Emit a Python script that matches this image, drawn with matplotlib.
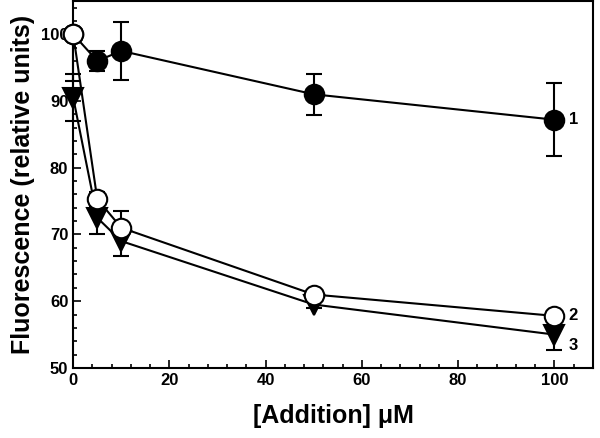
import matplotlib.pyplot as plt
from matplotlib.ticker import MultipleLocator

plt.rcParams['font.family'] = ['Liberation Sans', 'DejaVu Sans']
plt.rcParams['font.weight'] = 'bold'

conc = [0, 5, 10, 50, 100]

# curve 1: filled circles
s1 = [100, 96.0, 97.5, 91.0, 87.2]
s1_err = [0, 1.5, 4.3, 3.1, 5.5]

# curve 2: open circles
s2 = [100, 75.3, 71.0, 61.0, 57.8]
s2_err_lo = [7.0, 1.0, 0.5, 0.3, 0.8]
s2_err_hi = [0.0, 1.0, 2.5, 0.3, 0.3]

# curve 3: filled triangles
s3 = [90.5, 72.5, 69.0, 59.5, 55.0]
s3_err = [3.5, 2.5, 2.3, 0.5, 2.3]

curve_labels = ['1', '2', '3']

fig = plt.figure(figsize=(6, 4.38), dpi=100)
ax = fig.add_axes([0.122, 0.16, 0.866, 0.838])

ebkw = dict(color='black', lw=1.5, elinewidth=1.5, capsize=6, capthick=1.5,
            markeredgecolor='black', markeredgewidth=1.5, clip_on=False)

ax.errorbar(conc, s3, yerr=s3_err, fmt='-v', markersize=14,
            markerfacecolor='black', zorder=3, **ebkw)
ax.errorbar(conc, s1, yerr=s1_err, fmt='-o', markersize=14,
            markerfacecolor='black', zorder=4, **ebkw)
ax.errorbar(conc, s2, yerr=[s2_err_lo, s2_err_hi], fmt='-o', markersize=14,
            markerfacecolor='white', zorder=5, **ebkw)

for lab, yv in zip(curve_labels, [s1[-1], s2[-1], s3[-1] - 1.7]):
    ax.text(conc[-1] + 3, yv, lab, fontsize=12, fontweight='bold',
            va='center', ha='left')

ax.set_xlim(0, 108)
ax.set_ylim(50, 105)
ax.xaxis.set_major_locator(MultipleLocator(20))
ax.xaxis.set_minor_locator(MultipleLocator(4))
ax.yaxis.set_major_locator(MultipleLocator(10))
ax.yaxis.set_minor_locator(MultipleLocator(2))
ax.tick_params(which='both', direction='in', width=1.2, labelsize=12)
ax.tick_params(which='major', length=6)
ax.tick_params(which='minor', length=3)
for sp in ax.spines.values():
    sp.set_linewidth(1.5)

ax.set_xlabel('[Addition] μM', fontsize=18, fontweight='bold', labelpad=12)
ax.set_ylabel('Fluorescence (relative units)', fontsize=18, fontweight='bold', labelpad=4)

fig.savefig('out.png', dpi=100)
